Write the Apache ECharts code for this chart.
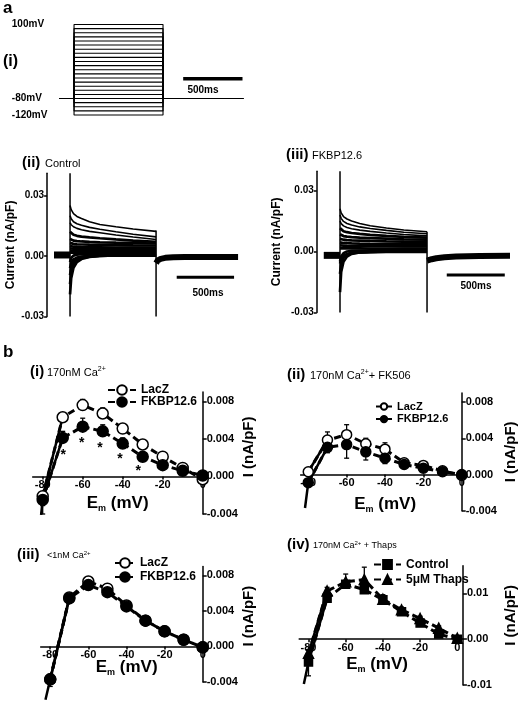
<!DOCTYPE html>
<html><head><meta charset="utf-8">
<script src="https://cdn.jsdelivr.net/npm/echarts@6/dist/echarts.min.js"></script>
<style>html,body{margin:0;padding:0;background:#fff}#c{width:520px;height:710px}</style>
</head><body><div id="c"></div>
<script>
const FONT = '"Liberation Sans", Arial, Helvetica, sans-serif';

// ---------------- DATA ----------------
// a(i) voltage-step protocol (mV, ms)
const stepVoltages = [-120,-110,-100,-90,-80,-70,-60,-50,-40,-30,-20,-10,0,10,20,30,40,50,60,70,80,90,100];
const protocolTimes = [-120, 0, 750, 1425];
const holdingPotential = -80;
const protocolLabelValues = [100, -80, -120];

// a(ii)/(iii) current traces (nA/pF) sampled at these times (ms)
const traceStepTimes = [0, 10, 30, 60, 100, 170, 260, 400, 550, 750];
const tracePreTimes = [-140, 0];
const tracePostTimes = [750, 765, 790, 830, 900, 1000, 1200, 1465];

const controlTraces = [
  [0.0250, 0.0230, 0.0210, 0.0196, 0.0186, 0.0170, 0.0156, 0.0145, 0.0134, 0.0122],
  [0.0200, 0.0185, 0.0170, 0.0160, 0.0152, 0.0142, 0.0133, 0.0120, 0.0108, 0.0095],
  [0.0165, 0.0155, 0.0145, 0.0137, 0.0130, 0.0122, 0.0115, 0.0104, 0.0094, 0.0082],
  [0.0120, 0.0112, 0.0105, 0.0100, 0.0096, 0.0092, 0.0088, 0.0082, 0.0076, 0.0070],
  [0.0085, 0.0080, 0.0076, 0.0074, 0.0072, 0.0070, 0.0068, 0.0066, 0.0064, 0.0062],
  [0.0065, 0.0062, 0.0060, 0.0058, 0.0057, 0.0056, 0.0055, 0.0054, 0.0053, 0.0052],
  [0.0050, 0.0048, 0.0046, 0.0045, 0.0044, 0.0043, 0.0043, 0.0042, 0.0042, 0.0042],
  [0.0038, 0.0037, 0.0036, 0.0035, 0.0034, 0.0034, 0.0033, 0.0033, 0.0033, 0.0033],
  [0.0027, 0.0027, 0.0026, 0.0026, 0.0025, 0.0025, 0.0025, 0.0025, 0.0024, 0.0024],
  [0.0016, 0.0017, 0.0017, 0.0017, 0.0016, 0.0016, 0.0016, 0.0016, 0.0016, 0.0016],
  [-0.0030, -0.0010, 0.0002, 0.0007, 0.0009, 0.0010, 0.0010, 0.0010, 0.0010, 0.0010],
  [-0.0190, -0.0110, -0.0058, -0.0030, -0.0015, -0.0005, 0.0000, 0.0003, 0.0004, 0.0005],
  [-0.0140, -0.0080, -0.0042, -0.0022, -0.0010, -0.0003, 0.0001, 0.0003, 0.0004, 0.0004],
  [-0.0095, -0.0055, -0.0028, -0.0014, -0.0006, 0.0000, 0.0002, 0.0003, 0.0003, 0.0003],
  [-0.0060, -0.0035, -0.0017, -0.0008, -0.0003, 0.0001, 0.0002, 0.0002, 0.0002, 0.0002]
];
const controlPre = 0.0005;
const controlPost = [-0.0035, -0.0022, -0.0014, -0.0009, -0.0006, -0.0005, -0.0005, -0.0005];
const controlOnSpike = [-0.030, 0.041];
const controlOffSpike = [0.0126, -0.030];

const fkbpTraces = [
  [0.0210, 0.0190, 0.0172, 0.0160, 0.0150, 0.0138, 0.0127, 0.0116, 0.0106, 0.0097],
  [0.0180, 0.0163, 0.0148, 0.0138, 0.0130, 0.0121, 0.0113, 0.0104, 0.0095, 0.0087],
  [0.0150, 0.0137, 0.0126, 0.0118, 0.0112, 0.0105, 0.0099, 0.0091, 0.0084, 0.0077],
  [0.0115, 0.0107, 0.0100, 0.0095, 0.0091, 0.0087, 0.0082, 0.0077, 0.0072, 0.0068],
  [0.0085, 0.0080, 0.0076, 0.0073, 0.0071, 0.0068, 0.0066, 0.0063, 0.0060, 0.0058],
  [0.0062, 0.0060, 0.0058, 0.0056, 0.0055, 0.0054, 0.0052, 0.0050, 0.0049, 0.0048],
  [0.0045, 0.0044, 0.0042, 0.0041, 0.0040, 0.0039, 0.0038, 0.0037, 0.0037, 0.0036],
  [0.0030, 0.0030, 0.0029, 0.0028, 0.0027, 0.0027, 0.0026, 0.0026, 0.0025, 0.0025],
  [0.0015, 0.0016, 0.0016, 0.0015, 0.0015, 0.0015, 0.0014, 0.0014, 0.0014, 0.0014],
  [-0.0050, -0.0025, -0.0008, 0.0000, 0.0003, 0.0004, 0.0004, 0.0004, 0.0004, 0.0004],
  [-0.0200, -0.0100, -0.0050, -0.0025, -0.0012, -0.0005, -0.0002, 0.0000, 0.0000, 0.0000],
  [-0.0110, -0.0060, -0.0030, -0.0015, -0.0008, -0.0004, -0.0002, -0.0001, -0.0001, -0.0001],
  [-0.0060, -0.0040, -0.0022, -0.0012, -0.0007, -0.0004, -0.0003, -0.0002, -0.0002, -0.0002]
];
const fkbpPre = -0.0019;
const fkbpPost = [-0.0045, -0.0042, -0.0038, -0.0033, -0.0028, -0.0025, -0.0022, -0.0021];
const fkbpOnSpike = [-0.030, 0.0395];
const fkbpOffSpike = [0.0097, -0.030];
const currentTickValues = [-0.03, 0, 0.03];
const scaleBarLength = 500; // ms

// b  I–V relations (Em in mV, I in nA/pF)
const voltages = [-80, -70, -60, -50, -40, -30, -20, -10, 0];
const voltageTickValues = [-80, -60, -40, -20, 0];
const ivTicksSmall = [-0.004, 0, 0.004, 0.008];
const ivTicksLarge = [-0.01, 0, 0.01];

const lacz1 = [-0.0021, 0.0063, 0.0076, 0.0067, 0.0051, 0.0034, 0.0021, 0.0009, -0.0003];
const fkbp1 = [-0.0025, 0.0041, 0.0053, 0.0048, 0.0035, 0.0021, 0.0012, 0.0006, 0.0001];
const lacz1Err = [-0.0010, 0.0004, 0.0006, 0.0006, 0.0004, 0.0003, 0.0003, 0.0002, 0.0002];
const fkbp1Err = [-0.0015, 0.0007, 0.0009, 0.0007, 0.0006, 0.0004, 0.0003, 0.0002, 0.0001];
const fit1Ext = [-80.8, -0.0041];
const starVolts = [-69.7, -60.5, -51.4, -41.4, -32.2];
const starLevels = [0.0026, 0.0039, 0.0033, 0.0022, 0.0009];

const lacz2 = [0.0003, 0.0038, 0.0044, 0.0034, 0.0028, 0.0013, 0.0010, 0.0004, -0.0001];
const fkbp2 = [-0.0009, 0.0030, 0.0033, 0.0025, 0.0018, 0.0011, 0.0007, 0.0003, 0.0000];
const lacz2Err = [0.0003, 0.0009, 0.0011, 0.0006, 0.0007, 0.0003, 0.0003, 0.0003, 0.0001];
const fkbp2Err = [-0.0004, -0.0006, -0.0015, -0.0009, -0.0006, -0.0002, -0.0002, -0.0002, 0.0000];
const fit2Ext = [-81.7, -0.0037];

const lacz3 = [-0.0037, 0.0055, 0.0073, 0.0065, 0.0046, 0.0029, 0.0017, 0.00075, -0.0001];
const fkbp3 = [-0.0037, 0.0054, 0.0069, 0.0061, 0.0045, 0.0029, 0.0017, 0.00075, -0.0001];
const lacz3Err = [-0.0005, 0.0003, 0.0005, 0.0004, 0.0002, 0.0002, 0.0002, 0.0001, 0.0001];
const fkbp3Err = [-0.0008, 0.0002, 0.0003, 0.0003, 0.0002, 0.0002, 0.0001, 0.0001, 0.0001];
const fit3Ext = [-82.5, -0.0060];

const ctrl4 = [-0.0050, 0.0089, 0.0120, 0.0108, 0.0086, 0.0060, 0.0035, 0.0011, 0.0000];
const thaps4 = [-0.0031, 0.0105, 0.0125, 0.0130, 0.0087, 0.0064, 0.0045, 0.0024, 0.0002];
const ctrl4Err = [-0.0030, 0.0008, 0.0008, 0.0008, 0.0006, 0.0005, 0.0004, 0.0004, 0.0002];
const thaps4Err = [0.0008, 0.0008, 0.0017, 0.0027, 0.0010, 0.0006, 0.0005, 0.0005, 0.0002];
const fit4Ext = [-82.5, -0.0098];

// ---------------- CHART ----------------
const chart = echarts.init(document.getElementById('c'), null, {renderer: 'canvas'});

// data grids
const grids = [
  {left: 59.8, top: 24.5, width: 183.3, height: 90.5},
  {left: 47.1, top: 173.3, width: 192.7, height: 143.2},
  {left: 316.8, top: 171.2, width: 193.2, height: 141.3},
  {left: 32.7, top: 391.9, width: 170, height: 122.1},
  {left: 300.6, top: 393, width: 161.1, height: 117.7},
  {left: 40.7, top: 566.4, width: 162, height: 115.6},
  {left: 299.2, top: 565.8, width: 163.7, height: 119.2}
];
// x-axis carrier grids for panel b: bottom edge sits on I = 0 of the matching data grid
const ivZeroHeights = [84.5, 81.5, 80.0, 73.4];
[3, 4, 5, 6].forEach((gi, k) => {
  grids.push({left: grids[gi].left, width: grids[gi].width, top: grids[gi].top, height: ivZeroHeights[k]});
});
grids.forEach(g => Object.assign(g, {containLabel: false, outerBoundsMode: 'none'}));

const axisFont = {color: '#000', fontFamily: FONT, fontWeight: 'bold'};

function currentY(gi, min, max, gap) {
  return {gridIndex: gi, type: 'value', min, max,
    axisLine: {onZero: false, lineStyle: {color: '#000', width: 1.5}},
    axisTick: {customValues: currentTickValues, length: 3, lineStyle: {color: '#000', width: 1.5}},
    axisLabel: Object.assign({customValues: currentTickValues, formatter: v => v.toFixed(2), margin: 3, fontSize: 10}, axisFont),
    splitLine: {show: false},
    name: 'Current (nA/pF)', nameLocation: 'middle', nameGap: gap, nameRotate: 90, nameMoveOverlap: false,
    nameTextStyle: Object.assign({fontSize: 12}, axisFont)};
}
function ivX(gi, min, max, gap, pad) {
  return {gridIndex: gi, type: 'value', min, max,
    axisLine: {onZero: false, lineStyle: {color: '#000', width: 1.5}},
    axisTick: {customValues: voltageTickValues, length: 3, lineStyle: {color: '#000', width: 1.5}},
    axisLabel: Object.assign({customValues: voltageTickValues, formatter: v => String(v), margin: 3, fontSize: 11}, axisFont),
    splitLine: {show: false},
    name: '{e|E}{s|m}{e| (mV)}', nameLocation: 'middle', nameGap: gap, nameMoveOverlap: false,
    nameTextStyle: {padding: pad, rich: {
      e: {fontSize: 17, fontWeight: 'bold', fontFamily: FONT, color: '#000', lineHeight: 20},
      s: {fontSize: 9, fontWeight: 'bold', fontFamily: FONT, color: '#000', lineHeight: 9, verticalAlign: 'bottom'}
    }}};
}
function ivY(gi, min, max, ticks, digits, gap, pad) {
  return {gridIndex: gi, type: 'value', position: 'right', min, max,
    axisLine: {onZero: false, lineStyle: {color: '#000', width: 1.5}},
    axisTick: {customValues: ticks, length: 4, lineStyle: {color: '#000', width: 1.5}},
    axisLabel: Object.assign({customValues: ticks, formatter: v => v.toFixed(digits), margin: 4, fontSize: 11}, axisFont),
    splitLine: {show: false},
    name: 'I (nA/pF)', nameLocation: 'middle', nameRotate: 90, nameGap: gap, nameMoveOverlap: false,
    nameTextStyle: Object.assign({fontSize: 15, padding: pad}, axisFont)};
}
const hiddenX = (gi, min, max) => ({gridIndex: gi, type: 'value', min, max, show: false});

const xAxes = [
  hiddenX(0, protocolTimes[0], protocolTimes[3]),
  hiddenX(1, -200, 1480),
  hiddenX(2, -200, 1465),
  hiddenX(3, -85, 0), hiddenX(4, -84, 0), hiddenX(5, -85, 0), hiddenX(6, -85, 3),
  ivX(7, -85, 0, 17, [0, 0, 0, 0]),
  ivX(8, -84, 0, 20, [0, 0, 0, 8]),
  ivX(9, -85, 0, 11, [0, 0, 0, 10]),
  ivX(10, -85, 3, 15, [0, 8, 0, 0])
];
const yAxes = [
  {gridIndex: 0, type: 'value', min: -120, max: 100,
    axisLine: {show: false}, axisTick: {show: false}, splitLine: {show: false},
    axisLabel: Object.assign({customValues: protocolLabelValues, formatter: v => v + 'mV', align: 'left', margin: 48, fontSize: 10}, axisFont)},
  currentY(1, -0.03, 0.041, 30),
  currentY(2, -0.03, 0.0395, 34),
  ivY(3, -0.004, 0.009, ivTicksSmall, 3, 39, [0, 0, 0, 12]),
  ivY(4, -0.004, 0.009, ivTicksSmall, 3, 42, [0, 0, 0, 0]),
  ivY(5, -0.004, 0.009, ivTicksSmall, 3, 39, [0, 0, 0, 16]),
  ivY(6, -0.01, 0.016, ivTicksLarge, 2, 40, [0, 0, 0, 20]),
  {gridIndex: 7, type: 'value', min: 0, max: 1, show: false},
  {gridIndex: 8, type: 'value', min: 0, max: 1, show: false},
  {gridIndex: 9, type: 'value', min: 0, max: 1, show: false},
  {gridIndex: 10, type: 'value', min: 0, max: 1, show: false}
];

const series = [];
function plainLine(gi, data, width, z) {
  return {type: 'line', xAxisIndex: gi, yAxisIndex: gi, data, symbol: 'none', silent: true, clip: false,
    lineStyle: {color: '#000', width}, z: z || 2};
}
// a(i) protocol
stepVoltages.forEach(v => {
  series.push(plainLine(0, [
    [protocolTimes[0], holdingPotential], [protocolTimes[1], holdingPotential],
    [protocolTimes[1], v], [protocolTimes[2], v],
    [protocolTimes[2], holdingPotential], [protocolTimes[3], holdingPotential]], 1.1));
});
series.push(plainLine(0, [[920, -32], [920 + scaleBarLength, -32]], 3.5));

// a(ii), a(iii) traces
function addTraces(gi, traces, pre, post, onSpike, offSpike, barStart, barLevel) {
  traces.forEach((tr, k) => series.push(plainLine(gi, traceStepTimes.map((t, i) => [t, tr[i]]), k < 3 ? 1.6 : 2.7)));
  series.push(plainLine(gi, tracePreTimes.map(t => [t, pre]), 7));
  series.push(plainLine(gi, tracePostTimes.map((t, i) => [t, post[i]]), 6));
  series.push(plainLine(gi, [[traceStepTimes[0], onSpike[0]], [traceStepTimes[0], onSpike[1]]], 1.5));
  const tEnd = traceStepTimes[traceStepTimes.length - 1];
  series.push(plainLine(gi, [[tEnd, offSpike[0]], [tEnd, offSpike[1]]], 1.5));
  series.push(plainLine(gi, [[barStart, barLevel], [barStart + scaleBarLength, barLevel]], 3));
}
addTraces(1, controlTraces, controlPre, controlPost, controlOnSpike, controlOffSpike, 930, -0.0105);
addTraces(2, fkbpTraces, fkbpPre, fkbpPost, fkbpOnSpike, fkbpOffSpike, 920, -0.0116);

// b I–V panels
function ivLine(gi, name, vals, symbol, size, fill) {
  return {type: 'line', name, xAxisIndex: gi, yAxisIndex: gi,
    data: voltages.map((v, i) => [v, vals[i]]),
    symbol, symbolSize: size, showSymbol: true, clip: false, z: 4,
    itemStyle: {color: fill, borderColor: '#000', borderWidth: 1.5, opacity: 1},
    lineStyle: {color: '#000', width: 3, type: [7, 4]}};
}
function fitLine(gi, pts) {
  return {type: 'line', name: 'fit', xAxisIndex: gi, yAxisIndex: gi, data: pts, symbol: 'none',
    lineStyle: {color: '#000', width: 2.5}, z: 3, clip: false, silent: true};
}
function errBars(gi, vals, errs) {
  return {type: 'custom', name: 'err', xAxisIndex: gi, yAxisIndex: gi, silent: true, clip: false, z: 2,
    data: voltages.map((v, i) => [v, vals[i], errs[i]]),
    encode: {x: 0, y: 1},
    renderItem: (params, api) => {
      const x = api.value(0), y = api.value(1), e = api.value(2);
      const p0 = api.coord([x, y]), p1 = api.coord([x, y + e]);
      return {type: 'group', children: [
        {type: 'line', shape: {x1: p0[0], y1: p0[1], x2: p1[0], y2: p1[1]}, style: {stroke: '#000', lineWidth: 1.3}},
        {type: 'line', shape: {x1: p1[0] - 2.5, y1: p1[1], x2: p1[0] + 2.5, y2: p1[1]}, style: {stroke: '#000', lineWidth: 1.3}}
      ]};
    }};
}
function ivPanel(gi, nameA, a, errA, symA, sizeA, fillA, nameB, b, errB, symB, sizeB, fillB, ext) {
  const lowerIsB = b[0] <= a[0];
  const low = lowerIsB ? b : a, up = lowerIsB ? a : b;
  series.push(fitLine(gi, [ext, [voltages[0], low[0]], [voltages[1], low[1]]]));
  series.push(fitLine(gi, [[voltages[0], up[0]], [voltages[1], up[1]]]));
  series.push(errBars(gi, a, errA));
  series.push(errBars(gi, b, errB));
  series.push(ivLine(gi, nameA, a, symA, sizeA, fillA));
  series.push(ivLine(gi, nameB, b, symB, sizeB, fillB));
}
ivPanel(3, 'LacZ', lacz1, lacz1Err, 'circle', 11, '#fff', 'FKBP12.6', fkbp1, fkbp1Err, 'circle', 11, '#000', fit1Ext);
ivPanel(4, 'LacZ', lacz2, lacz2Err, 'circle', 10, '#fff', 'FKBP12.6', fkbp2, fkbp2Err, 'circle', 10, '#000', fit2Ext);
ivPanel(5, 'LacZ', lacz3, lacz3Err, 'circle', 11, '#fff', 'FKBP12.6', fkbp3, fkbp3Err, 'circle', 11, '#000', fit3Ext);
ivPanel(6, 'Control', ctrl4, ctrl4Err, 'rect', 8, '#000', '5μM Thaps', thaps4, thaps4Err, 'triangle', 10, '#000', fit4Ext);

// significance stars in b(i)
series.push({type: 'custom', name: 'stars', xAxisIndex: 3, yAxisIndex: 3, silent: true, clip: false, z: 5,
  data: starVolts.map((v, i) => [v, starLevels[i]]), encode: {x: 0, y: 1},
  renderItem: (params, api) => {
    const p = api.coord([api.value(0), api.value(1)]);
    return {type: 'text', x: p[0], y: p[1] + 3,
      style: {text: '*', fill: '#000', font: 'bold 14px ' + FONT, align: 'center', verticalAlign: 'middle'}};
  }});

function legendAt(names, left, top, iw, ih, fs, gap) {
  return {data: names, left, top, orient: 'vertical', itemWidth: iw, itemHeight: ih, itemGap: gap,
    selectedMode: false, padding: 0,
    textStyle: {fontSize: fs, fontWeight: 'bold', fontFamily: FONT, color: '#000'}};
}
const legends = [
  legendAt(['LacZ', 'FKBP12.6'], 107, 384, 28, 12, 12, 0),
  legendAt(['LacZ', 'FKBP12.6'], 375, 401, 16, 8, 11, 1.6),
  legendAt(['LacZ', 'FKBP12.6'], 114, 557, 20, 12, 12, 2),
  legendAt(['Control', '5μM Thaps'], 373, 558.5, 27, 11, 12, 3)
];

function txt(x, y, text, size, weight, align) {
  return {type: 'text', x, y, silent: true,
    style: {text, fill: '#000', fontSize: size, fontWeight: weight || 'normal', fontFamily: FONT,
      align: align || 'left', verticalAlign: 'middle'}};
}
function caTxt(x, y, before, after, size) {
  const sup = Math.round(size * 0.65);
  return {type: 'text', x, y, silent: true,
    style: {text: '{n|' + before + '}{s|2+}' + (after ? '{n|' + after + '}' : ''), verticalAlign: 'middle',
      rich: {
        n: {fontSize: size, fontFamily: FONT, fill: '#000', color: '#000', lineHeight: size + 3},
        s: {fontSize: sup, fontFamily: FONT, fill: '#000', color: '#000', lineHeight: sup + 1, verticalAlign: 'top'}
      }}};
}
const graphics = [
  txt(3, 8, 'a', 17, 'bold'),
  txt(3, 62, '(i)', 16, 'bold'),
  txt(203, 90, '500ms', 10, 'bold', 'center'),
  txt(22, 163, '(ii)', 15, 'bold'),
  txt(45, 164, 'Control', 11),
  txt(208, 293, '500ms', 10, 'bold', 'center'),
  txt(286, 155, '(iii)', 15, 'bold'),
  txt(312, 156, 'FKBP12.6', 11),
  txt(476, 286, '500ms', 10, 'bold', 'center'),
  txt(3, 352, 'b', 17, 'bold'),
  txt(30, 372, '(i)', 15, 'bold'),
  caTxt(47, 373, '170nM Ca', '', 11),
  txt(287, 375, '(ii)', 15, 'bold'),
  caTxt(310, 376, '170nM Ca', '+ FK506', 11),
  txt(17, 555, '(iii)', 15, 'bold'),
  caTxt(47, 556, '<1nM Ca', '', 9),
  txt(287, 545, '(iv)', 15, 'bold'),
  caTxt(313, 546, '170nM Ca', ' + Thaps', 9)
];

chart.setOption({
  animation: false,
  backgroundColor: '#fff',
  textStyle: {fontFamily: FONT},
  grid: grids,
  xAxis: xAxes,
  yAxis: yAxes,
  legend: legends,
  graphic: {elements: graphics},
  series
});
</script>
</body></html>
